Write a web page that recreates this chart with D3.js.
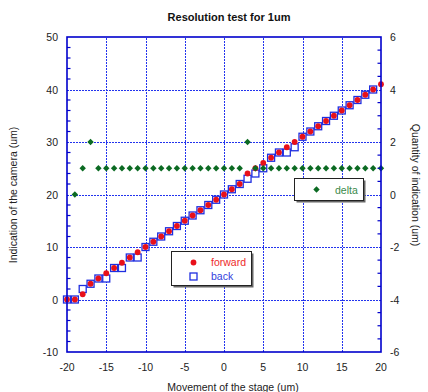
<!DOCTYPE html>
<html>
<head>
<meta charset="utf-8">
<script src="https://cdn.jsdelivr.net/npm/d3@7"></script>
<style>
  html, body { margin: 0; padding: 0; background: #fff; }
  svg { display: block; font-family: "Liberation Sans", Arial, sans-serif; }
</style>
</head>
<body>
<div id="chart"></div>
<script>
// stage positions (um)
const forwardX = d3.range(-20, 21);
const forwardVals = [0, 0, 1, 3, 4, 5, 6, 7, 8, 9, 10, 11, 12, 13, 14, 15, 16, 17, 18, 19, 20,
  21, 22, 24, 25, 26, 27, 28, 29, 30, 31, 32, 33, 34, 35, 36, 37, 38, 39, 40, 41];
const backX = d3.range(-20, 20);
const backVals = [0, 0, 2, 3, 4, 4, 6, 6, 8, 8, 10, 11, 12, 13, 14, 15, 16, 17, 18, 19, 20,
  21, 22, 23, 24, 25, 27, 28, 28, 29, 31, 32, 33, 34, 35, 36, 37, 38, 39, 40];
const deltaX = d3.range(-19, 21);
const deltaVals = [0, 1, 2, 1, 1, 1, 1, 1, 1, 1, 1, 1, 1, 1, 1, 1, 1, 1, 1, 1,
  1, 1, 2, 1, 1, 1, 1, 1, 1, 1, 1, 1, 1, 1, 1, 1, 1, 1, 1, 1];

const xTicks = [-20, -15, -10, -5, 0, 5, 10, 15, 20];
const yLeftTicks = [-10, 0, 10, 20, 30, 40, 50];
const yRightTicks = [-6, -4, -2, 0, 2, 4, 6];

const W = 428, H = 392;
const margin = { top: 37, right: 47, bottom: 40, left: 67 };
const blue = "#0000cc";

const svg = d3.select("#chart").append("svg")
  .attr("width", W).attr("height", H);

const x = d3.scaleLinear().domain([-20, 20]).range([margin.left, W - margin.right]);
const yL = d3.scaleLinear().domain([-10, 50]).range([H - margin.bottom, margin.top]);
const yR = d3.scaleLinear().domain([-6, 6]).range([H - margin.bottom, margin.top]);

const [x0, x1] = x.range();
const [yB, yT] = yL.range();

// grid
const grid = svg.append("g")
  .attr("stroke", "#2233ee")
  .attr("stroke-width", 1)
  .attr("stroke-dasharray", "2,1");
grid.selectAll("line.v")
  .data(xTicks.slice(1, -1))
  .join("line")
    .attr("x1", d => Math.round(x(d)) + 0.5).attr("x2", d => Math.round(x(d)) + 0.5)
    .attr("y1", yB).attr("y2", yT);
grid.selectAll("line.h")
  .data(yLeftTicks.slice(1, -1))
  .join("line")
    .attr("y1", d => Math.round(yL(d)) + 0.5).attr("y2", d => Math.round(yL(d)) + 0.5)
    .attr("x1", x0).attr("x2", x1);

// back (open squares)
const sq = 7;
svg.append("g").selectAll("rect")
  .data(backX.map((d, i) => [d, backVals[i]]))
  .join("rect")
    .attr("x", d => x(d[0]) - sq / 2)
    .attr("y", d => yL(d[1]) - sq / 2)
    .attr("width", sq).attr("height", sq)
    .attr("fill", "#fff")
    .attr("stroke", "#1f2ee0")
    .attr("stroke-width", 1.3);

// forward (red dots)
svg.append("g").selectAll("circle")
  .data(forwardX.map((d, i) => [d, forwardVals[i]]))
  .join("circle")
    .attr("cx", d => x(d[0]))
    .attr("cy", d => yL(d[1]))
    .attr("r", 2.9)
    .attr("fill", "#e8101a");

// delta (green diamonds, right axis)
const diamond = (cx, cy, s) => `M${cx},${cy - s}L${cx + s},${cy}L${cx},${cy + s}L${cx - s},${cy}Z`;
svg.append("g").selectAll("path")
  .data(deltaX.map((d, i) => [d, deltaVals[i]]))
  .join("path")
    .attr("d", d => diamond(x(d[0]), yR(d[1]), 3.2))
    .attr("fill", "#0b6a22");

// axes frame
const axes = svg.append("g").attr("stroke", blue).attr("fill", "none");
axes.append("rect")
  .attr("x", x0).attr("y", yT)
  .attr("width", x1 - x0).attr("height", yB - yT)
  .attr("stroke-width", 1.6);

// left minor ticks (inward)
const leftMinor = d3.range(-10, 50.01, 2).filter(d => d % 10 !== 0);
axes.selectAll("line.lm")
  .data(leftMinor)
  .join("line")
    .attr("x1", x0).attr("x2", x0 + 3.5)
    .attr("y1", d => yL(d)).attr("y2", d => yL(d))
    .attr("stroke-width", 1.2);

// right minor ticks (inward)
const rightMinor = d3.range(-6, 6.01, 0.5).filter(d => d % 2 !== 0);
axes.selectAll("line.rm")
  .data(rightMinor)
  .join("line")
    .attr("x1", x1).attr("x2", x1 - 3.5)
    .attr("y1", d => yR(d)).attr("y2", d => yR(d))
    .attr("stroke-width", 1.2);

// tick labels
const lab = svg.append("g").attr("font-size", 10.5).attr("fill", "#222");
lab.selectAll("text.xl")
  .data(xTicks)
  .join("text")
    .attr("x", d => x(d)).attr("y", yB + 19)
    .attr("text-anchor", "middle")
    .text(d => d);
lab.selectAll("text.yl")
  .data(yLeftTicks)
  .join("text")
    .attr("x", x0 - 9).attr("y", d => yL(d) + 4)
    .attr("text-anchor", "end")
    .text(d => d);
lab.selectAll("text.yr")
  .data(yRightTicks)
  .join("text")
    .attr("x", x1 + 9).attr("y", d => yR(d) + 4)
    .attr("text-anchor", "start")
    .text(d => d);

// titles
svg.append("text")
  .attr("x", 229).attr("y", 21)
  .attr("text-anchor", "middle")
  .attr("font-size", 11).attr("font-weight", "bold").attr("fill", "#111")
  .text("Resolution test for 1um");
svg.append("text")
  .attr("x", 233).attr("y", 391)
  .attr("text-anchor", "middle")
  .attr("font-size", 10.5).attr("fill", "#222")
  .text("Movement of the stage (um)");
svg.append("text")
  .attr("transform", "translate(17,195) rotate(-90)")
  .attr("text-anchor", "middle")
  .attr("font-size", 10.5).attr("fill", "#222")
  .text("Indication of the camera (um)");
svg.append("text")
  .attr("transform", "translate(412,185) rotate(90)")
  .attr("text-anchor", "middle")
  .attr("font-size", 10.5).attr("fill", "#222")
  .text("Quantity of indication (um)");

// legends
function legendBox(bx, by, bw, bh) {
  svg.append("rect")
    .attr("x", bx + 2).attr("y", by + 2).attr("width", bw).attr("height", bh)
    .attr("fill", "#666");
  svg.append("rect")
    .attr("x", bx).attr("y", by).attr("width", bw).attr("height", bh)
    .attr("fill", "#fff").attr("stroke", "#222").attr("stroke-width", 1);
}

legendBox(171.5, 251.5, 80, 34);
svg.append("circle").attr("cx", 193.5).attr("cy", 262.5).attr("r", 2.9).attr("fill", "#e8101a");
svg.append("rect").attr("x", 190).attr("y", 273).attr("width", 7).attr("height", 7)
  .attr("fill", "#fff").attr("stroke", "#1f2ee0").attr("stroke-width", 1.3);
svg.append("text").attr("x", 211).attr("y", 266).attr("font-size", 10.5)
  .attr("fill", "#ee2a2a").text("forward");
svg.append("text").attr("x", 211).attr("y", 280).attr("font-size", 10.5)
  .attr("fill", "#3340dd").text("back");

legendBox(294.5, 178.5, 69, 22);
svg.append("path").attr("d", diamond(316.5, 189.5, 3.2)).attr("fill", "#0b6a22");
svg.append("text").attr("x", 335).attr("y", 193.5).attr("font-size", 10.5)
  .attr("fill", "#3a8a4a").text("delta");
</script>
</body>
</html>
